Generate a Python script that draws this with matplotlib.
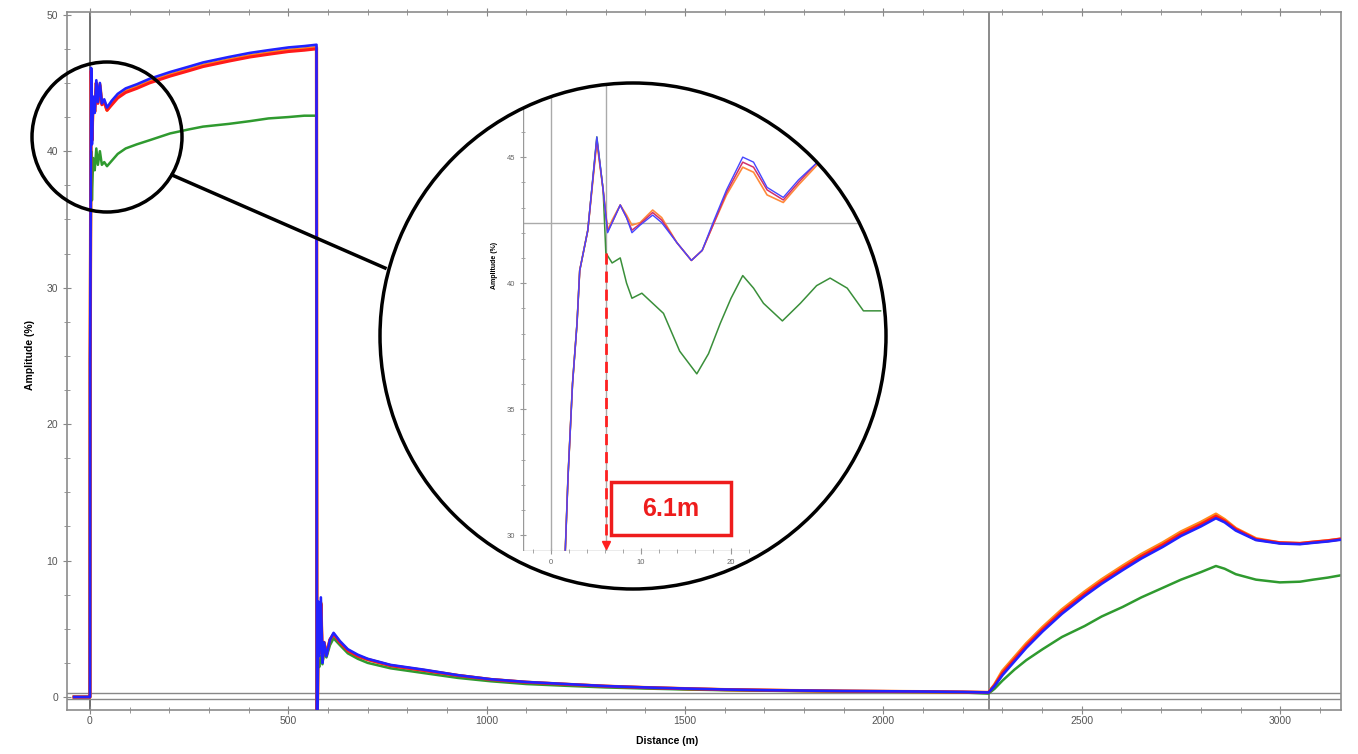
import matplotlib
matplotlib.use("Agg")
import matplotlib.pyplot as plt
from matplotlib.patches import Circle, Rectangle
from matplotlib.lines import Line2D
from matplotlib.ticker import MultipleLocator, FixedLocator

plt.rcParams['font.family'] = ['Liberation Sans', 'DejaVu Sans']

# main trace, distance in m, amplitude in %
distance = [-40, -1, 0, 0.5, 3, 5, 8, 12, 16, 20,
            25, 30, 36, 43, 55, 70, 90, 118, 150, 202,
            250, 285, 350, 403, 450, 500, 540, 571, 572, 573,
            574, 575, 578, 582, 586, 590, 596, 605, 614, 630,
            650, 675, 700, 758, 842, 927, 1011, 1100, 1200, 1300,
            1400, 1500, 1600, 1700, 1800, 1900, 2000, 2100, 2200, 2265,
            2280, 2300, 2330, 2360, 2401, 2450, 2507, 2550, 2603, 2650,
            2704, 2750, 2800, 2838, 2860, 2888, 2939, 2999, 3050, 3083,
            3120, 3159]

amp_orange = [0.0, 0.0, 0.0, 24.5, 45.9, 40.8, 43.9, 42.9, 45.0, 43.6,
              44.9, 43.5, 43.6, 43.0, 43.5, 44.0, 44.4, 44.7, 45.1, 45.6,
              46.0, 46.3, 46.7, 47.0, 47.2, 47.4, 47.5, 47.6, -1.0, -1.0,
              0.5, 6.6, 3.2, 6.9, 2.7, 4.0, 3.1, 4.2, 4.6, 4.0,
              3.4, 3.0, 2.75, 2.3, 1.95, 1.58, 1.28, 1.08, 0.93, 0.79,
              0.69, 0.61, 0.54, 0.5, 0.46, 0.43, 0.41, 0.39, 0.36, 0.33,
              0.9, 1.9, 2.9, 3.9, 5.1, 6.4, 7.7, 8.6, 9.6, 10.45,
              11.3, 12.1, 12.8, 13.4, 13.0, 12.35, 11.6, 11.3, 11.25, 11.35,
              11.45, 11.6]

amp_red = [0.0, 0.0, 0.0, 24.5, 45.9, 40.8, 43.8, 42.9, 45.0, 43.5,
           44.8, 43.4, 43.6, 43.0, 43.4, 43.9, 44.3, 44.6, 45.0, 45.5,
           45.9, 46.2, 46.6, 46.9, 47.1, 47.3, 47.4, 47.5, -1.0, -1.0,
           0.5, 6.5, 3.2, 6.8, 2.7, 4.0, 3.1, 4.2, 4.6, 4.0,
           3.4, 3.0, 2.75, 2.3, 1.95, 1.58, 1.28, 1.08, 0.93, 0.79,
           0.69, 0.61, 0.54, 0.5, 0.46, 0.43, 0.41, 0.39, 0.36, 0.33,
           0.85, 1.75, 2.75, 3.75, 4.95, 6.25, 7.55, 8.45, 9.45, 10.3,
           11.15, 11.95, 12.65, 13.25, 12.9, 12.3, 11.55, 11.3, 11.25, 11.35,
           11.45, 11.6]

amp_blue = [0.0, 0.0, 0.0, 24.5, 46.1, 40.5, 44.0, 42.8, 45.2, 43.6,
            45.0, 43.5, 43.8, 43.2, 43.7, 44.2, 44.6, 44.9, 45.3, 45.8,
            46.2, 46.5, 46.9, 47.2, 47.4, 47.6, 47.7, 47.8, -1.0, -1.0,
            0.5, 7.0, 3.0, 7.3, 2.5, 4.0, 3.0, 4.2, 4.7, 4.1,
            3.5, 3.1, 2.8, 2.35, 2.0, 1.6, 1.3, 1.1, 0.95, 0.8,
            0.7, 0.62, 0.55, 0.5, 0.47, 0.44, 0.42, 0.4, 0.37, 0.33,
            0.8, 1.6, 2.6, 3.6, 4.8, 6.1, 7.4, 8.3, 9.3, 10.15,
            11.0, 11.8, 12.5, 13.1, 12.8, 12.2, 11.5, 11.25, 11.2, 11.3,
            11.4, 11.55]

amp_green = [0.0, 0.0, 0.0, 24.5, 40.0, 36.4, 39.5, 38.6, 40.2, 39.0,
             40.0, 39.0, 39.2, 38.9, 39.3, 39.8, 40.2, 40.5, 40.8, 41.3,
             41.6, 41.8, 42.0, 42.2, 42.4, 42.5, 42.6, 42.6, -1.0, -1.0,
             0.3, 2.5, 2.2, 3.0, 2.4, 3.4, 2.9, 3.8, 4.3, 3.8,
             3.2, 2.8, 2.5, 2.1, 1.75, 1.4, 1.15, 0.95, 0.82, 0.7,
             0.62, 0.55, 0.5, 0.46, 0.43, 0.4, 0.38, 0.36, 0.33, 0.25,
             0.6, 1.2, 2.0, 2.7, 3.5, 4.4, 5.2, 5.9, 6.6, 7.3,
             8.0, 8.6, 9.15, 9.6, 9.4, 9.0, 8.6, 8.4, 8.45, 8.6,
             8.75, 8.95]

# zoomed view of the first ~35 m
zoom_dist = [1.6, 1.9, 2.4, 2.9, 3.2, 4.1, 5.1, 5.8, 6.3, 6.8,
             7.7, 8.4, 9.0, 9.9, 11.3, 12.3, 14.0, 15.6, 16.8, 18.0,
             19.5, 21.3, 22.5, 24.0, 25.8, 27.5, 29.6, 31.0]
zoom_blue = [29.4, 32.3, 36.0, 38.4, 40.5, 42.1, 45.8, 43.7, 42.0, 42.4,
             43.1, 42.6, 42.0, 42.3, 42.7, 42.4, 41.6, 40.9, 41.3, 42.4,
             43.7, 45.0, 44.8, 43.8, 43.4, 44.1, 44.8, 45.0]
zoom_red = [29.4, 32.3, 36.0, 38.4, 40.5, 42.1, 45.7, 43.7, 42.05, 42.4,
            43.1, 42.6, 42.1, 42.35, 42.8, 42.5, 41.6, 40.9, 41.3, 42.3,
            43.6, 44.8, 44.6, 43.7, 43.3, 44.0, 44.8, 45.0]
zoom_orange = [29.4, 32.3, 36.0, 38.4, 40.5, 42.1, 45.6, 43.7, 42.1, 42.5,
               43.1, 42.7, 42.3, 42.4, 42.9, 42.6, 41.6, 40.9, 41.3, 42.3,
               43.5, 44.6, 44.4, 43.5, 43.2, 43.9, 44.7, 45.0]
zoom_green_dist = [1.6, 1.9, 2.4, 2.9, 3.2, 4.1, 5.1, 5.8, 6.1, 6.8,
                   7.7, 8.4, 9.0, 10.1, 11.3, 12.5, 14.3, 16.2, 17.5, 18.8,
                   20.0, 21.3, 22.5, 23.6, 25.7, 27.7, 29.5, 31.0, 32.9, 34.7,
                   36.6]
zoom_green = [29.4, 32.3, 36.0, 38.4, 40.5, 42.1, 45.8, 43.7, 41.2, 40.8,
              41.0, 40.0, 39.4, 39.6, 39.2, 38.8, 37.3, 36.4, 37.2, 38.4,
              39.4, 40.3, 39.8, 39.2, 38.5, 39.2, 39.9, 40.2, 39.8, 38.9,
              38.9]

fig = plt.figure(figsize=(13.58, 7.54), dpi=100)
ax = fig.add_axes([0.0493, 0.0584, 0.9381, 0.9257])

ax.axvline(0, color='#555555', lw=1.2, zorder=1)
ax.axvline(2265, color='#777777', lw=1.2, zorder=1)
ax.axhline(0.3, color='#888888', lw=1.0, zorder=1)
ax.axhline(-0.15, color='#888888', lw=1.0, zorder=1)

ax.plot(distance, amp_orange, color='#ff8a1a', lw=2.4, zorder=2)
ax.plot(distance, amp_green, color='#2f9a2f', lw=1.8, zorder=2.5)
ax.plot(distance, amp_red, color='#ff1a1a', lw=2.2, zorder=3)
ax.plot(distance, amp_blue, color='#2222ff', lw=1.9, zorder=4)

ax.set_xlim(-58, 3153)
ax.set_ylim(-0.95, 50.2)
ax.xaxis.set_major_locator(MultipleLocator(500))
ax.xaxis.set_minor_locator(MultipleLocator(100))
ax.yaxis.set_major_locator(MultipleLocator(10))
ax.yaxis.set_minor_locator(MultipleLocator(2.5))
ax.tick_params(which='both', direction='inout', color='#888888', top=True, right=False,
               labelsize=7.5, labelcolor='#555555')
ax.tick_params(which='major', length=6)
ax.tick_params(which='minor', length=4)
ax.tick_params(axis='x', pad=1.5)
for s in ax.spines.values():
    s.set_color('#8c8c8c')
    s.set_linewidth(1.2)

ax.set_xlabel('Distance (m)', fontsize=7.5, fontweight='bold')
ax.set_ylabel('Amplitude (%)', fontsize=7.5, fontweight='bold')
ax.xaxis.set_label_coords(0.471, -0.037)
ax.yaxis.set_label_coords(-0.025, 0.509)

# magnifier circles
tr = fig.dpi_scale_trans
fig.add_artist(Circle((6.33, 4.18), 2.53, transform=tr, facecolor='white',
                      edgecolor='none', zorder=1))
fig.add_artist(Circle((6.33, 4.18), 2.53, transform=tr, facecolor='none',
                      edgecolor='black', lw=2.5, zorder=3))
fig.add_artist(Circle((1.07, 6.17), 0.75, transform=tr, facecolor='none',
                      edgecolor='black', lw=2.5, zorder=3))
fig.add_artist(Line2D([1.72, 3.85], [5.79, 4.86], transform=tr, color='black',
                      lw=2.5, zorder=3))

clip = Circle((6.33, 4.18), 2.52, transform=tr)

axi = fig.add_axes([0.3851, 0.2692, 0.2673, 0.6207])
axi.set_zorder(2)
axi.patch.set_alpha(0)
axi.set_xlim(-3.1, 37.2)
axi.set_ylim(29.37, 47.94)

cursors = [axi.axvline(0, color='#aaaaaa', lw=1.0),
           axi.axvline(6.1, color='#aaaaaa', lw=1.0),
           axi.axhline(42.4, color='#aaaaaa', lw=1.0)]
lines = cursors + [
    axi.plot(zoom_green_dist, zoom_green, color='#3a8f3a', lw=1.1)[0],
    axi.plot(zoom_dist, zoom_orange, color='#ff8a3a', lw=1.2)[0],
    axi.plot(zoom_dist, zoom_red, color='#d0306a', lw=1.1)[0],
    axi.plot(zoom_dist, zoom_blue, color='#4646ff', lw=1.0)[0],
]
for ln in lines:
    ln.set_clip_path(clip)

axi.plot([6.1, 6.1], [41.2, 29.75], color='#ff2020', lw=2, ls=(0, (4, 2.5)))
axi.plot([6.1], [29.62], marker='v', color='#ff2020', markersize=6, clip_on=False)
axi.add_patch(Rectangle((6.67, 30.0), 13.33, 2.1, facecolor='white',
                        edgecolor='#ee1c1c', lw=2.5, zorder=5))
axi.text(13.33, 31.05, '6.1m', color='#ee1c1c', fontsize=18, fontweight='bold',
         ha='center', va='center', zorder=6)

axi.spines['top'].set_visible(False)
axi.spines['right'].set_visible(False)
for s in ('left', 'bottom'):
    axi.spines[s].set_color('#999999')
    axi.spines[s].set_linewidth(1.0)
    axi.spines[s].set_clip_path(clip)
axi.xaxis.set_major_locator(FixedLocator([0, 10, 20]))
axi.xaxis.set_minor_locator(FixedLocator([-2, 2, 4, 6, 8, 12, 14, 16, 18, 22]))
axi.yaxis.set_major_locator(FixedLocator([30, 35, 40, 45]))
axi.yaxis.set_minor_locator(FixedLocator([31, 32, 33, 34, 36, 37, 38, 39, 41, 42, 43, 44, 46]))
axi.tick_params(which='both', direction='inout', color='#999999', labelsize=5.5,
                labelcolor='#666666')
axi.tick_params(which='major', length=4)
axi.tick_params(which='minor', length=2.5)
axi.set_ylabel('Amplitude (%)', fontsize=5, fontweight='bold')
axi.yaxis.set_label_coords(-0.07, 0.611)

fig.savefig('out.png', dpi=100)
